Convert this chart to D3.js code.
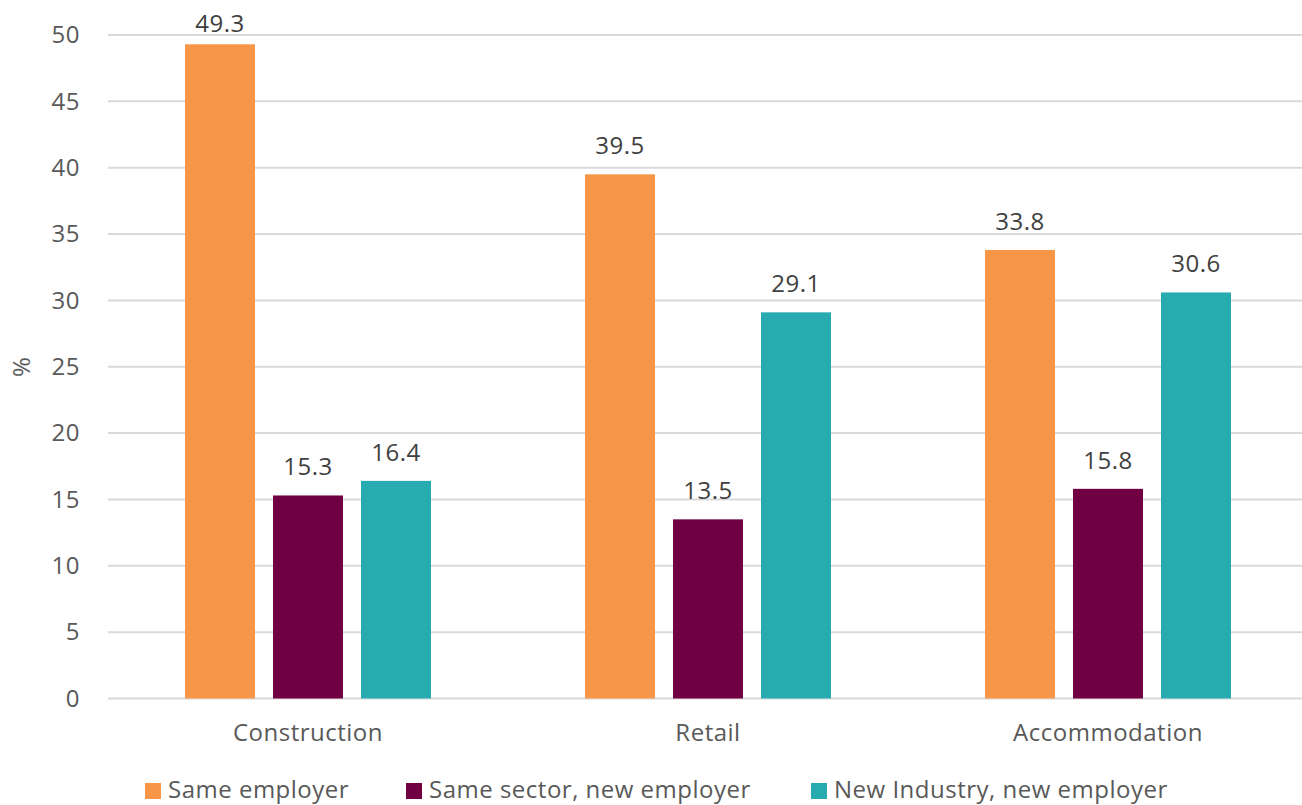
<!DOCTYPE html>
<html>
<head>
<meta charset="utf-8">
<script src="https://cdn.jsdelivr.net/npm/d3@7"></script>
<style>
  html, body { margin: 0; padding: 0; background: #fff; }
  svg { display: block; font-family: "Open Sans", sans-serif; }
  svg text { letter-spacing: 0.5px; }
</style>
</head>
<body>
<svg id="chart" width="1302" height="805"></svg>
<script>
// Share of workers by destination, per industry (%)
const categories = ["Construction", "Retail", "Accommodation"];
const seriesNames = ["Same employer", "Same sector, new employer", "New Industry, new employer"];
const sameEmployer = [49.3, 39.5, 33.8];
const sameSectorNewEmployer = [15.3, 13.5, 15.8];
const newIndustryNewEmployer = [16.4, 29.1, 30.6];
const yTicks = [0, 5, 10, 15, 20, 25, 30, 35, 40, 45, 50];
const colors = ["#F79646", "#700041", "#27AAB0"];

const seriesValues = [sameEmployer, sameSectorNewEmployer, newIndustryNewEmployer];
const rows = categories.map((c, i) => ({
  category: c,
  values: seriesNames.map((s, j) => ({ series: s, idx: j, value: seriesValues[j][i] }))
}));

const svg = d3.select("#chart");
const textColor = "#595959";
const gridColor = "#d9d9d9";
const fontSize = "24px";

const plotLeft = 108, plotRight = 1308, plotTop = 35, plotBottom = 698.5;

const x0 = d3.scaleBand().domain(categories).range([plotLeft, plotRight])
  .paddingInner(0.385).paddingOuter(0.1925);
const x1 = d3.scaleBand().domain(seriesNames).range([0, x0.bandwidth()])
  .paddingInner(0.2045).paddingOuter(0);
const y = d3.scaleLinear().domain([0, 50]).range([plotBottom, plotTop]);

// Gridlines
svg.append("g")
  .selectAll("line")
  .data(yTicks)
  .join("line")
  .attr("x1", plotLeft).attr("x2", 1302)
  .attr("y1", d => y(d)).attr("y2", d => y(d))
  .attr("stroke", gridColor)
  .attr("stroke-width", 2);

// Y axis labels
const yAxis = d3.axisLeft(y).tickValues(yTicks).tickSize(0).tickPadding(0);
const yg = svg.append("g").attr("transform", `translate(80,0)`).call(yAxis);
yg.select(".domain").remove();
yg.selectAll("text")
  .attr("fill", textColor)
  .style("font-size", fontSize)
  .style("font-family", "'Open Sans', sans-serif");

// Y axis title
svg.append("text")
  .attr("transform", `translate(30,${y(25)}) rotate(-90)`)
  .attr("text-anchor", "middle")
  .attr("fill", textColor)
  .style("font-size", fontSize)
  .text("%");

// Bars
const groups = svg.append("g")
  .selectAll("g")
  .data(rows)
  .join("g")
  .attr("transform", d => `translate(${x0(d.category)},0)`);

groups.selectAll("rect")
  .data(d => d.values)
  .join("rect")
  .attr("x", d => x1(d.series))
  .attr("width", x1.bandwidth())
  .attr("y", d => y(d.value))
  .attr("height", d => y(0) - y(d.value))
  .attr("fill", d => colors[d.idx]);

// Value labels sit above each bar, kept inside the plot at the top
groups.selectAll("text.val")
  .data(d => d.values)
  .join("text")
  .attr("class", "val")
  .attr("x", d => x1(d.series) + x1.bandwidth() / 2)
  .attr("y", d => Math.max(y(d.value) - 20, 32))
  .attr("text-anchor", "middle")
  .attr("fill", "#404040")
  .style("font-size", fontSize)
  .text(d => d.value.toFixed(1));

// X axis labels
const xAxis = d3.axisBottom(x0).tickSize(0).tickPadding(0);
const xg = svg.append("g").attr("transform", `translate(0,${plotBottom})`).call(xAxis);
xg.select(".domain").remove();
xg.selectAll("text")
  .attr("y", 42.5)
  .attr("dy", null)
  .attr("fill", textColor)
  .style("font-size", fontSize)
  .style("font-family", "'Open Sans', sans-serif");

// Legend
const legendX = [145, 406, 811];
const legend = svg.append("g")
  .selectAll("g")
  .data(seriesNames)
  .join("g")
  .attr("transform", (d, i) => `translate(${legendX[i]},783)`);
legend.append("rect")
  .attr("width", 16).attr("height", 16)
  .attr("fill", (d, i) => colors[i]);
legend.append("text")
  .attr("x", 23).attr("y", 15)
  .attr("fill", textColor)
  .style("font-size", fontSize)
  .text(d => d);
</script>
</body>
</html>
